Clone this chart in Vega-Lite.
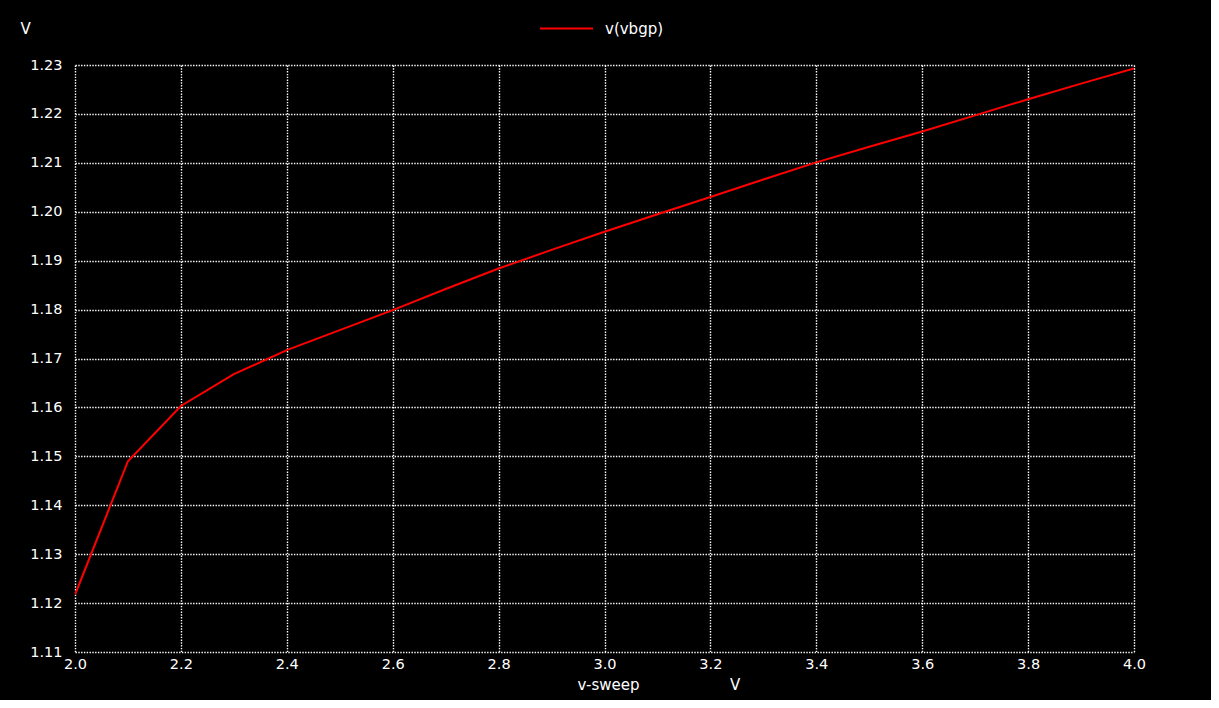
{
  "$schema": "https://vega.github.io/schema/vega-lite/v6.json",
  "autosize": {"type": "none"},
  "width": 1059,
  "height": 587,
  "padding": {"left": 75, "top": 65, "right": 77, "bottom": 48},
  "background": "#000000",
  "config": {
    "view": {"stroke": null, "fill": "#000000"},
    "font": "DejaVu Sans",
    "axis": {
      "domain": false,
      "ticks": false,
      "grid": true,
      "gridColor": "#ffffff",
      "gridOpacity": 1,
      "gridWidth": 1.4,
      "gridDash": [1.4, 1.4],
      "labelColor": "#ffffff",
      "labelFont": "DejaVu Sans",
      "labelFontSize": 14.5,
      "titleColor": "#ffffff",
      "titleFont": "DejaVu Sans",
      "titleFontSize": 15,
      "titleFontWeight": "normal"
    }
  },
  "data": {
    "values": [
      {"x": 2.0, "y": 1.1217, "s": "v(vbgp)"},
      {"x": 2.1, "y": 1.1490, "s": "v(vbgp)"},
      {"x": 2.2, "y": 1.1603, "s": "v(vbgp)"},
      {"x": 2.3, "y": 1.1668, "s": "v(vbgp)"},
      {"x": 2.4, "y": 1.1717, "s": "v(vbgp)"},
      {"x": 2.5, "y": 1.1758, "s": "v(vbgp)"},
      {"x": 2.6, "y": 1.1799, "s": "v(vbgp)"},
      {"x": 2.7, "y": 1.1842, "s": "v(vbgp)"},
      {"x": 2.8, "y": 1.1884, "s": "v(vbgp)"},
      {"x": 2.9, "y": 1.1922, "s": "v(vbgp)"},
      {"x": 3.0, "y": 1.1959, "s": "v(vbgp)"},
      {"x": 3.1, "y": 1.1995, "s": "v(vbgp)"},
      {"x": 3.2, "y": 1.2030, "s": "v(vbgp)"},
      {"x": 3.3, "y": 1.2066, "s": "v(vbgp)"},
      {"x": 3.4, "y": 1.2101, "s": "v(vbgp)"},
      {"x": 3.5, "y": 1.2133, "s": "v(vbgp)"},
      {"x": 3.6, "y": 1.2164, "s": "v(vbgp)"},
      {"x": 3.7, "y": 1.2197, "s": "v(vbgp)"},
      {"x": 3.8, "y": 1.2230, "s": "v(vbgp)"},
      {"x": 3.9, "y": 1.2262, "s": "v(vbgp)"},
      {"x": 4.0, "y": 1.2293, "s": "v(vbgp)"}
    ]
  },
  "mark": {"type": "line", "strokeWidth": 2, "clip": true},
  "encoding": {
    "x": {
      "field": "x",
      "type": "quantitative",
      "scale": {"domain": [2.0, 4.0], "nice": false, "zero": false},
      "axis": {
        "values": [2.0, 2.2, 2.4, 2.6, 2.8, 3.0, 3.2, 3.4, 3.6, 3.8, 4.0],
        "format": ".1f",
        "labelPadding": 5,
        "labelFlush": false,
        "labelOverlap": false,
        "title": "v-sweep\u00a0\u00a0\u00a0\u00a0\u00a0\u00a0\u00a0\u00a0\u00a0\u00a0\u00a0\u00a0\u00a0\u00a0\u00a0\u00a0\u00a0\u00a0\u00a0V",
        "titleAnchor": null,
        "titleAlign": "left",
        "titleBaseline": "middle",
        "titleX": 502,
        "titleY": 32
      }
    },
    "y": {
      "field": "y",
      "type": "quantitative",
      "scale": {"domain": [1.11, 1.23], "nice": false, "zero": false},
      "axis": {
        "values": [1.11, 1.12, 1.13, 1.14, 1.15, 1.16, 1.17, 1.18, 1.19, 1.2, 1.21, 1.22, 1.23],
        "format": ".2f",
        "labelPadding": 13,
        "labelFlush": false,
        "labelOverlap": false,
        "title": "V",
        "titleAngle": 0,
        "titleAnchor": null,
        "titleAlign": "center",
        "titleBaseline": "middle",
        "titleX": -50,
        "titleY": -37
      }
    },
    "color": {
      "field": "s",
      "type": "nominal",
      "scale": {"domain": ["v(vbgp)"], "range": ["#ff0000"]},
      "legend": {
        "title": null,
        "orient": "none",
        "legendX": 464,
        "legendY": -64,
        "padding": 0,
        "symbolType": "stroke",
        "symbolSize": 2809,
        "symbolStrokeWidth": 2,
        "labelColor": "#ffffff",
        "labelFont": "DejaVu Sans",
        "labelFontSize": 15,
        "labelOffset": 11
      }
    }
  }
}
